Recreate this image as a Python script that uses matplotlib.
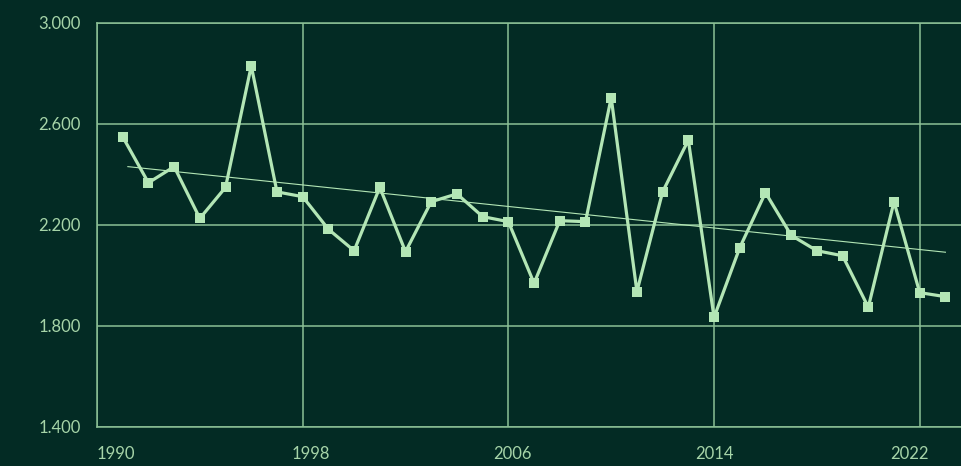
import numpy as np
import matplotlib
matplotlib.use("Agg")
import matplotlib.pyplot as plt
from matplotlib.transforms import ScaledTranslation

years = list(range(1991, 2024))
values = [2.548, 2.366, 2.430, 2.225, 2.348, 2.829, 2.330, 2.311, 2.182, 2.097,
          2.348, 2.093, 2.291, 2.322, 2.232, 2.212, 1.968, 2.216, 2.212, 2.703,
          1.935, 2.330, 2.535, 1.833, 2.109, 2.327, 2.158, 2.097, 2.077, 1.873,
          2.291, 1.931, 1.915]
trend_years = [1991.2, 2023]
trend_values = [2.430, 2.091]
x_ticks = [1990, 1998, 2006, 2014, 2022]
x_tick_labels = ["1990", "1998", "2006", "2014", "2022"]
y_ticks = [1.4, 1.8, 2.2, 2.6, 3.0]
y_tick_labels = ["1.400", "1.800", "2.200", "2.600", "3.000"]

BG = "#032b24"
LINE = "#b3e6b5"
GRID = "#8cc196"
TEXT = "#a6d4a8"

plt.rcParams['font.family'] = ['Lato', 'DejaVu Sans']

fig = plt.figure(figsize=(9.61, 4.66), dpi=100, facecolor=BG)
ax = fig.add_axes([97/961, 1-426.7/466, 1-97/961, (426.7-22.7)/466])
ax.set_facecolor(BG)

ax.set_xlim(1990, 1990 + (961-97)/25.71)
ax.set_ylim(1.4, 3.0)

ax.set_xticks(x_ticks)
ax.set_yticks(y_ticks)
ax.set_yticklabels(y_tick_labels)
ax.set_xticklabels(x_tick_labels)

ax.grid(True, color=GRID, linewidth=1.1)
ax.set_axisbelow(True)
for side in ['top', 'right']:
    ax.spines[side].set_visible(False)
for side in ['left', 'bottom']:
    ax.spines[side].set_color(GRID)
    ax.spines[side].set_linewidth(1.1)
ax.axhline(3.0, color=GRID, linewidth=1.1, clip_on=False, zorder=0.5)

ax.tick_params(axis='both', length=0, colors=TEXT, labelsize=12)
ax.tick_params(axis='y', pad=11.5)
ax.tick_params(axis='x', pad=14)

lbls = ax.get_xticklabels()
lbls[0].set_horizontalalignment('left')
shifts_px = [0, 8, 4, 0, -10]
for lab, s in zip(lbls, shifts_px):
    lab.set_transform(lab.get_transform() + ScaledTranslation(s/100, 0, fig.dpi_scale_trans))

ax.plot(trend_years, trend_values, color=LINE, linewidth=0.8, zorder=2)

ax.plot(years, values, color=LINE, linewidth=2.3, marker='s', markersize=7.8,
        markeredgewidth=0, zorder=3, clip_on=False)

fig.savefig("out.png", dpi=100, facecolor=BG)
